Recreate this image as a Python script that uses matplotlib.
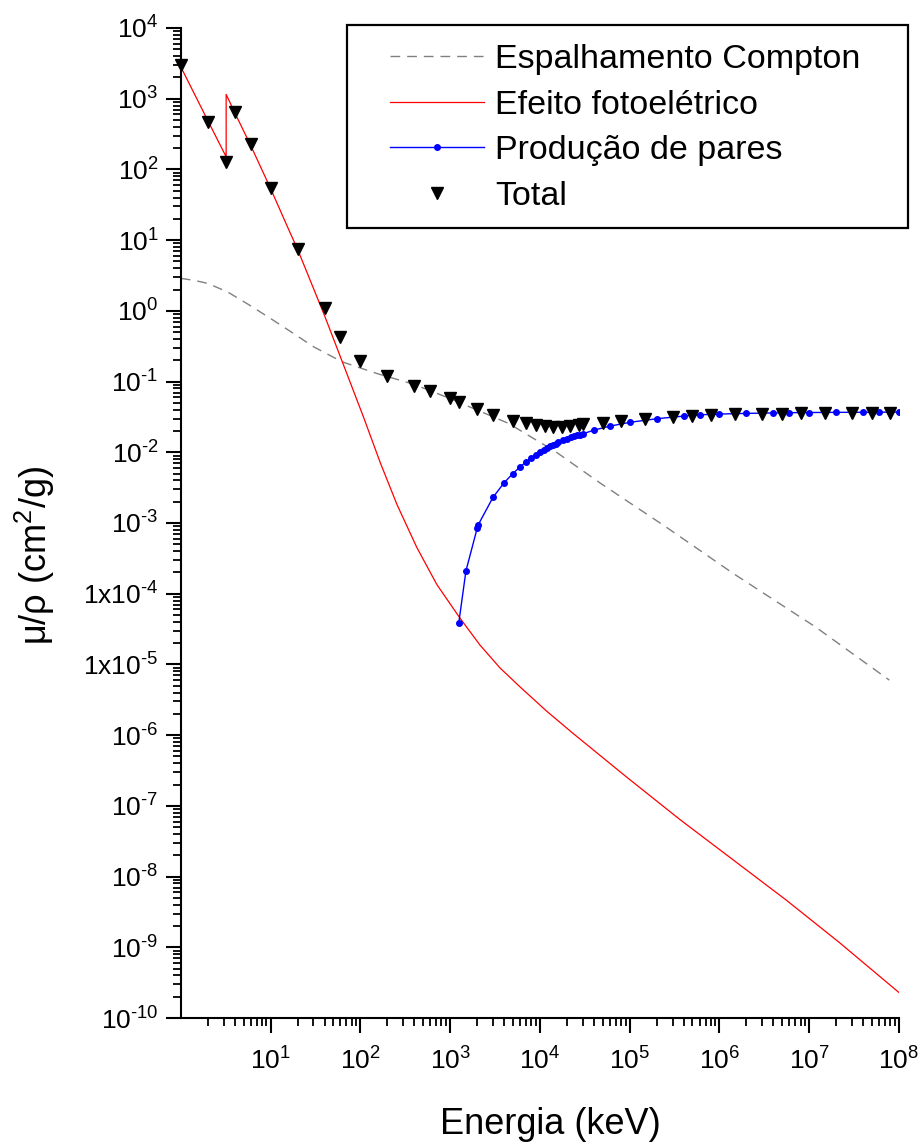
import numpy as np
import matplotlib
matplotlib.use("Agg")
import matplotlib.pyplot as plt
from matplotlib.ticker import LogLocator, FixedLocator, FuncFormatter, NullFormatter
from matplotlib.patches import Rectangle

plt.rcParams['font.family'] = ['Liberation Sans', 'DejaVu Sans']
plt.rcParams['mathtext.fontset'] = 'custom'
plt.rcParams['mathtext.rm'] = 'Liberation Sans'
plt.rcParams['mathtext.it'] = 'Liberation Sans:italic'
plt.rcParams['mathtext.bf'] = 'Liberation Sans:bold'

# ---------------- data (energy in keV, mu/rho in cm^2/g) ----------------
compton_E = [1, 1.41, 1.98, 3.3, 5.5, 10, 16.7, 30.2, 62.7, 153, 389, 1000, 4450,
             15300, 46500, 2.57e5, 1.41e6, 1.17e7, 7.8e7]
compton_mu = [2.88, 2.70, 2.45, 1.86, 1.26, 0.78, 0.51, 0.31, 0.19, 0.13, 0.092,
              0.0575, 0.0257, 0.0100, 3.7e-3, 8.7e-4, 1.95e-4, 3.4e-5, 6.0e-6]

photo_E = [1, 2, 3.2, 3.2001, 4, 6, 10, 16, 20, 40, 63.1, 109, 167, 256, 427,
           711, 1271, 2153, 3597, 5998, 11860, 23440, 91830, 3.597e5, 1.406e6,
           5.508e6, 2.153e7, 1e8]
photo_mu = [2820, 490, 151, 1150, 631, 219, 53.7, 13.9, 7.41, 0.851, 0.189,
            0.0309, 7.08e-3, 1.82e-3, 4.47e-4, 1.35e-4, 4.62e-5, 1.875e-5,
            8.91e-6, 4.82e-6, 2.19e-6, 1.057e-6, 2.57e-7, 6.46e-8, 1.74e-8,
            4.68e-9, 1.175e-9, 2.29e-10]

pair_E = [1250, 1500, 2000, 2044, 3000, 4000, 5000, 6000, 7000, 8000, 9000,
          10000, 11000, 12000, 13000, 14000, 15000, 16000, 18000, 20000, 22000,
          24000, 26000, 28000, 30000, 40000, 60000, 1e5, 2e5, 4e5, 6e5, 1e6,
          2e6, 4e6, 6e6, 1e7, 2e7, 4e7, 6e7, 1e8]
pair_mu = [3.9e-5, 2.1e-4, 8.4e-4, 9.3e-4, 2.3e-3, 3.72e-3, 5.0e-3, 6.2e-3,
           7.3e-3, 8.4e-3, 9.3e-3, 0.0100, 0.0108, 0.0115, 0.0122, 0.0128,
           0.0133, 0.0138, 0.0148, 0.0156, 0.0163, 0.0169, 0.0174, 0.0178,
           0.0182, 0.0206, 0.0234, 0.0265, 0.0298, 0.0325, 0.0339, 0.0347,
           0.0355, 0.0360, 0.0363, 0.0365, 0.0367, 0.0368, 0.0369, 0.0370]

total_E = [1, 2, 3.2, 4, 6, 10, 20, 40, 60, 100, 200, 400, 600, 1000, 1250,
           2000, 3000, 5000, 7000, 9000, 11500, 14000, 17500, 21500, 27500,
           30000, 50000, 80000, 1.5e5, 3e5, 5e5, 8e5, 1.5e6, 3e6, 5e6, 8e6,
           1.5e7, 3e7, 5e7, 8e7]
total_mu = [3000, 464, 129, 655, 229, 55, 7.6, 1.08, 0.43, 0.197, 0.12,
            0.0873, 0.0734, 0.0578, 0.0518, 0.0405, 0.0333, 0.0279, 0.0258,
            0.0243, 0.0234, 0.0229, 0.0229, 0.0232, 0.0240, 0.0248, 0.0256,
            0.0276, 0.0298, 0.0316, 0.0328, 0.0336, 0.0343, 0.0347, 0.0352,
            0.0354, 0.0355, 0.0355, 0.0355, 0.0355]

labels = ['Espalhamento Compton', 'Efeito fotoelétrico', 'Produção de pares', 'Total']
x_exponents = [1, 2, 3, 4, 5, 6, 7, 8]
y_exponents = list(range(-10, 5))

# ---------------- figure ----------------
W, H = 923, 1146
fig = plt.figure(figsize=(W / 100, H / 100), dpi=100)
ax = fig.add_axes([180.8 / W, 1 - 1018 / H, (899 - 180.8) / W, (1018 - 28) / H])

l1, = ax.plot(compton_E, compton_mu, color='#808080', lw=1.0,
              linestyle=(0, (7, 5)), label=labels[0])
l2, = ax.plot(photo_E, photo_mu, color='#ff0000', lw=0.9, label=labels[1])
l3, = ax.plot(pair_E, pair_mu, color='#0000ff', lw=1.0, marker='o', ms=4,
              mec='#0000ff', mfc='#0000ff', label=labels[2])
l4, = ax.plot(total_E, total_mu, linestyle='none', marker='v', ms=8,
              color='black', label=labels[3], clip_on=False, zorder=5)

ax.set_xscale('log')
ax.set_yscale('log')
ax.set_xlim(1, 1e8)
ax.set_ylim(1e-10, 1e4)

for s in ['top', 'right']:
    ax.spines[s].set_visible(False)
for s in ['left', 'bottom']:
    ax.spines[s].set_linewidth(1.5)

HY = '\u2010'

def expstr(k):
    return ('%d' % k).replace('-', HY)

# x ticks
ax.xaxis.set_major_locator(FixedLocator([10.0 ** k for k in x_exponents]))
ax.xaxis.set_major_formatter(FuncFormatter(
    lambda v, p: r'$\mathregular{10^{%s}}$' % expstr(int(round(np.log10(v))))))
ax.xaxis.set_minor_locator(LogLocator(base=10, subs=np.arange(2, 10), numticks=100))
ax.xaxis.set_minor_formatter(NullFormatter())

# y ticks
def yfmt(v, p):
    k = int(round(np.log10(v)))
    if k in (-4, -5):
        return r'$\mathregular{1x10^{%s}}$' % expstr(k)
    return r'$\mathregular{10^{%s}}$' % expstr(k)

ax.yaxis.set_major_locator(FixedLocator([10.0 ** k for k in y_exponents]))
ax.yaxis.set_major_formatter(FuncFormatter(yfmt))
ax.yaxis.set_minor_locator(LogLocator(base=10, subs=np.arange(2, 10), numticks=100))
ax.yaxis.set_minor_formatter(NullFormatter())

ax.tick_params(axis='both', which='major', direction='out', length=11, width=1.5,
               labelsize=19)
ax.tick_params(axis='both', which='minor', direction='out', length=6, width=1.3)
ax.tick_params(axis='x', which='major', pad=10)
ax.tick_params(axis='y', which='major', pad=5)

ax.set_xlabel('Energia (keV)', fontsize=26)
ax.xaxis.set_label_coords(0.515, -0.09)
ax.set_ylabel('μ/ρ (cm$^{2}$/g)', fontsize=26)
ax.yaxis.set_label_coords(-0.172, 0.467)

# legend (frame drawn separately to match padding)
leg = ax.legend(handles=[l1, l2, l3, l4], labels=labels, loc='upper left',
                bbox_to_anchor=(390 / W, 1 - 44 / H), bbox_transform=fig.transFigure,
                frameon=False, fontsize=24.5, handlelength=2.75, handletextpad=0.35,
                labelspacing=0.43, borderpad=0, borderaxespad=0, numpoints=1)
fig.patches.append(Rectangle((347 / W, 1 - 228 / H), (908 - 347) / W, (228 - 25) / H,
                             transform=fig.transFigure, fill=False, ec='black',
                             lw=1.6, zorder=10))

fig.savefig('out.png', dpi=100, facecolor='white')
